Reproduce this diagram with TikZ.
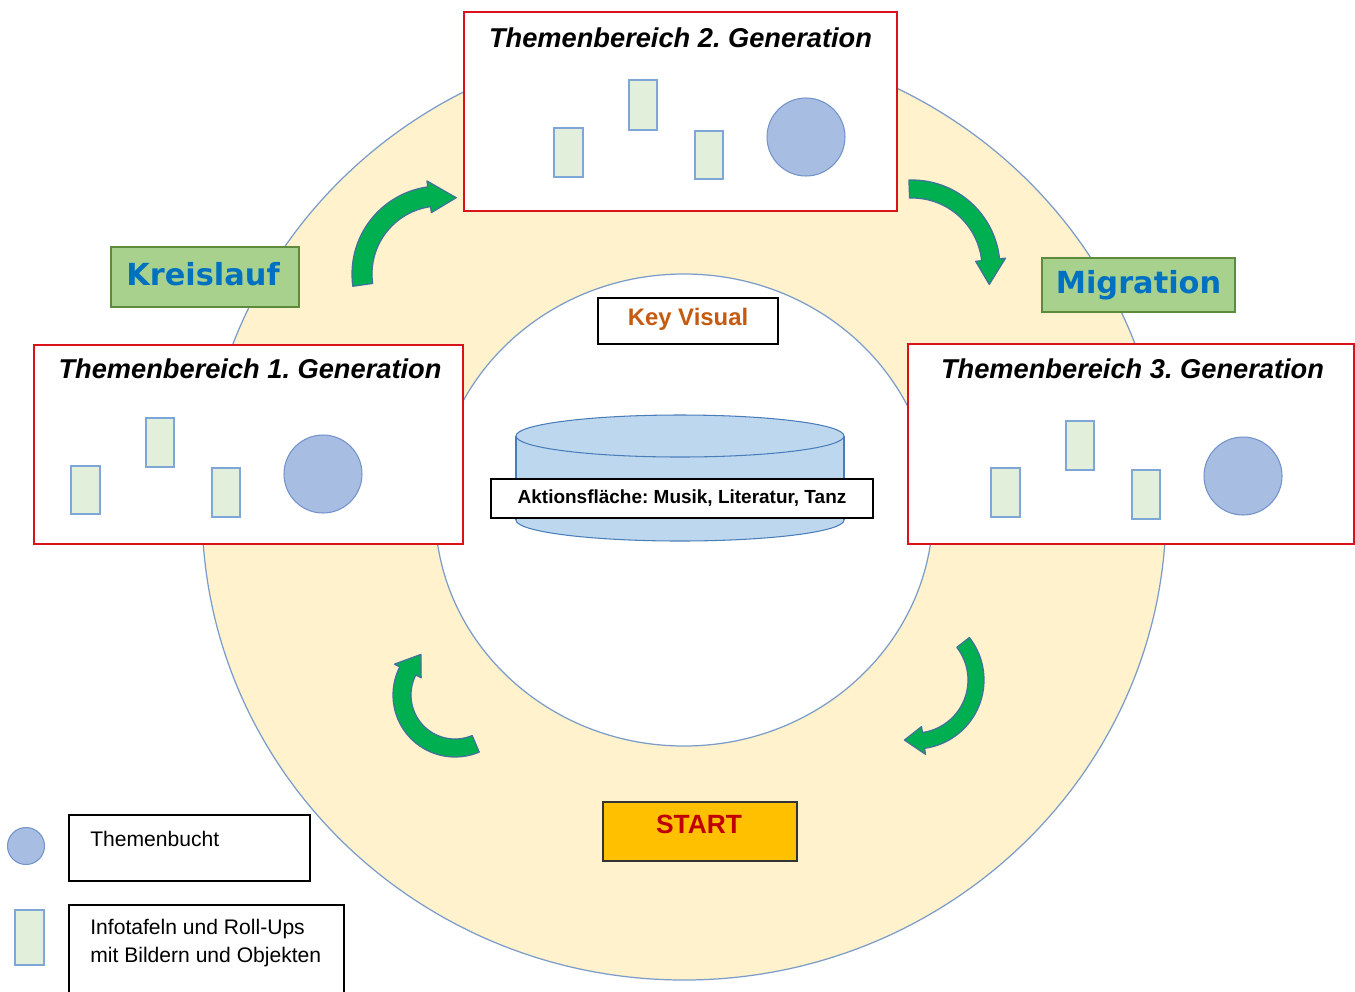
\documentclass[tikz,border=0pt]{standalone}
\usepackage{fontspec}
\setmainfont{Liberation Sans}
\newfontfamily\dejavu{DejaVu Sans}
\usetikzlibrary{fit}
\frenchspacing
\definecolor{ringfill}{HTML}{FFF2CC}
\definecolor{ringline}{HTML}{7B9CC9}
\definecolor{boxred}{HTML}{D9121C}
\definecolor{tafelfill}{HTML}{E2EFDA}
\definecolor{tafelline}{HTML}{7EA6D6}
\definecolor{buchtfill}{HTML}{A8BDE2}
\definecolor{buchtline}{HTML}{7393CB}
\definecolor{greenfill}{HTML}{A9D18E}
\definecolor{greenline}{HTML}{5E8A3E}
\definecolor{labelblue}{HTML}{0070C0}
\definecolor{arrowgreen}{HTML}{00B050}
\definecolor{arrowline}{HTML}{41719C}
\definecolor{cylfill}{HTML}{BDD7EE}
\definecolor{cylline}{HTML}{4A7EBB}
\definecolor{keyorange}{HTML}{C55A11}
\definecolor{startfill}{HTML}{FFC000}
\definecolor{startred}{HTML}{C00000}
\newcommand{\cyclearrow}[8]{%
  \filldraw[greenarrow] plot[domain=#5:#6, samples=40] ({#1+#4*cos(\x)},{#2+#4*sin(\x)})
   -- ({#1+(#4+#8)*cos(#6)},{#2+(#4+#8)*sin(#6)})
   -- ({#1+(#3+#4)/2*cos(#7)},{#2+(#3+#4)/2*sin(#7)})
   -- ({#1+(#3-#8)*cos(#6)},{#2+(#3-#8)*sin(#6)})
   -- plot[domain=#6:#5, samples=40] ({#1+#3*cos(\x)},{#2+#3*sin(\x)})
   -- cycle;}
\begin{document}
\begin{tikzpicture}[x=0.02cm, y=-0.02cm,
  ring/.style={fill=ringfill, draw=ringline, line width=0.7pt},
  redbox/.style={draw=boxred, line width=1.4pt, fill=white, inner sep=0pt},
  tafel/.style={draw=tafelline, fill=tafelfill, line width=0.6pt, inner sep=0pt},
  bucht/.style={circle, draw=buchtline, fill=buchtfill, line width=0.6pt, inner sep=0pt, minimum size=1.56cm},
  title/.style={font=\fontsize{15.5pt}{18pt}\selectfont\bfseries\itshape, inner sep=0pt},
  greenbox/.style={draw=greenline, fill=greenfill, line width=0.9pt, inner sep=0pt},
  greentext/.style={font=\dejavu\bfseries\fontsize{17.3pt}{20pt}\selectfont, text=labelblue, inner sep=0pt},
  plainbox/.style={draw=black, fill=white, line width=0.9pt, inner sep=0pt},
  greenarrow/.style={fill=arrowgreen, draw=arrowline, line width=0.7pt, line join=round},
  legendtext/.style={font=\fontsize{12pt}{15.5pt}\selectfont, align=left, inner sep=0pt, anchor=west}
]
\useasboundingbox (0,0) rectangle (1355,991);
\fill[white] (0,0) rectangle (1355,991);
% ring
\draw[ring] (684,510) ellipse[x radius=482, y radius=470];
\draw[ring, fill=white] (684,510) ellipse[x radius=249, y radius=236];
% green cycle arrows
\cyclearrow{440}{274}{68}{88}{172}{262}{282}{6}
\cyclearrow{912}{268}{70}{88}{268}{354}{372}{6}
\cyclearrow{455}{695}{44}{62}{67}{207}{230}{6}
\cyclearrow{915}{680}{53}{69}{322}{442}{460}{6}
% cylinder (Aktionsflaeche)
\filldraw[fill=cylfill, draw=cylline, line width=0.6pt] (680,520) ellipse[x radius=164, y radius=21];
\fill[cylfill] (516,436) rectangle (844,520);
\draw[cylline, line width=0.6pt] (516,436) -- (516,520) (844,436) -- (844,520);
\filldraw[fill=cylfill, draw=cylline, line width=0.6pt] (680,436) ellipse[x radius=164, y radius=21];
\node[plainbox, fit={(491,479) (873,518)}] (akt) {};
\node[font=\fontsize{10.8pt}{13pt}\selectfont\bfseries, inner sep=0pt] (akttext) at (akt.center) {Aktionsfläche: Musik, Literatur, Tanz};
% key visual
\node[plainbox, fit={(598,298) (778,344)}] (key) {};
\node[font=\fontsize{13.6pt}{16pt}\selectfont\bfseries, text=keyorange, inner sep=0pt] (keytext) at (688,319) {Key Visual};
% start
\node[draw=black!80, fill=startfill, line width=0.8pt, inner sep=0pt, fit={(603,802) (797,861)}] (start) {};
\node[font=\fontsize{15pt}{18pt}\selectfont\bfseries, text=startred, inner sep=0pt] (starttext) at (699,824) {START};
% Themenbereich 2
\node[redbox, fit={(464,12) (897,211)}] (g2) {};
\node[title] (t2) at (680.5,38) {Themenbereich 2. Generation};
\node[tafel, fit={(554,128) (583,177)}] (g2a) {};
\node[tafel, fit={(629,80) (657,130)}] (g2b) {};
\node[tafel, fit={(695,131) (723,179)}] (g2c) {};
\node[bucht] (g2d) at (806,137) {};
% Themenbereich 1
\node[redbox, fit={(34,345) (463,544)}] (g1) {};
\node[title] (t1) at (250,369) {Themenbereich 1. Generation};
\node[tafel, fit={(71,466) (100,514)}] (g1a) {};
\node[tafel, fit={(146,418) (174,467)}] (g1b) {};
\node[tafel, fit={(212,468) (240,517)}] (g1c) {};
\node[bucht] (g1d) at (323,474) {};
% Themenbereich 3
\node[redbox, fit={(908,344) (1354,544)}] (g3) {};
\node[title] (t3) at (1132.5,369) {Themenbereich 3. Generation};
\node[tafel, fit={(991,468) (1020,517)}] (g3a) {};
\node[tafel, fit={(1066,421) (1094,470)}] (g3b) {};
\node[tafel, fit={(1132,470) (1160,519)}] (g3c) {};
\node[bucht] (g3d) at (1243,476) {};
% green labels
\node[greenbox, fit={(111,247) (299,307)}] (kreis) {};
\node[greentext] (kreistext) at (203,274) {Kreislauf};
\node[greenbox, fit={(1042,258) (1235,312)}] (migr) {};
\node[greentext] (migrtext) at (1138.5,285) {Migration};
% legend
\node[bucht, minimum size=0.74cm] (legc) at (26,846) {};
\node[tafel, fit={(15,910) (44,965)}] (legr) {};
\node[plainbox, fit={(69,815) (310,881)}] (legbox1) {};
\node[legendtext] (legt1) at (90,839) {Themenbucht};
\node[plainbox, fit={(69,905) (344,994)}] (legbox2) {};
\node[legendtext] (legt2) at (90,943) {Infotafeln und Roll-Ups\\mit Bildern und Objekten};
\end{tikzpicture}
\end{document}
